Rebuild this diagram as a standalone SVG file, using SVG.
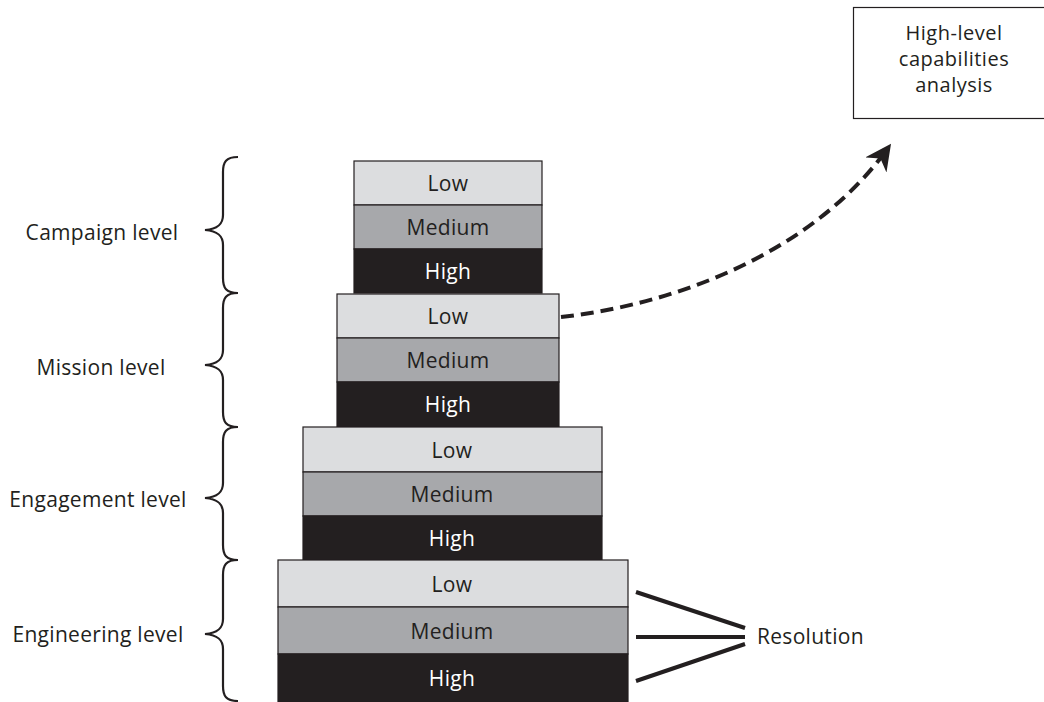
<svg xmlns="http://www.w3.org/2000/svg" width="1044" height="702" viewBox="0 0 1044 702">
<defs>
<style>
text{font-family:"Open Sans","Noto Sans",sans-serif;font-size:21px;letter-spacing:0.3px;fill:#231f20;text-anchor:middle}
text.bx{font-size:20px;letter-spacing:0.5px}
.lo{fill:#dcdddf;stroke:#231f20;stroke-width:1.2}
.md{fill:#a7a8ab;stroke:#231f20;stroke-width:1.2}
.hi{fill:#231f20;stroke:#231f20;stroke-width:1.2}
text.w{fill:#ffffff}
.brace{fill:none;stroke:#231f20;stroke-width:2.2}
.res{stroke:#231f20;stroke-width:4;fill:none}
</style>
<marker id="ah" viewBox="0 0 10 10" refX="8" refY="5" markerWidth="6.5" markerHeight="6.5" orient="auto" markerUnits="strokeWidth">
<path d="M0,0 L10,5 L0,10 L3,5 Z" fill="#231f20"/>
</marker>
</defs>
<rect width="1044" height="702" fill="#ffffff"/>

<g id="campaign">
<rect class="lo" x="354" y="161" width="188" height="44"/>
<rect class="md" x="354" y="205" width="188" height="44"/>
<rect class="hi" x="354" y="249" width="188" height="44"/>
<text x="448" y="191">Low</text>
<text x="448" y="235">Medium</text>
<text class="w" x="448" y="279">High</text>
</g>
<g id="mission">
<rect class="lo" x="337" y="294" width="222" height="44"/>
<rect class="md" x="337" y="338" width="222" height="44"/>
<rect class="hi" x="337" y="382" width="222" height="45"/>
<text x="448" y="324">Low</text>
<text x="448" y="368">Medium</text>
<text class="w" x="448" y="412">High</text>
</g>
<g id="engagement">
<rect class="lo" x="303" y="427" width="299" height="45"/>
<rect class="md" x="303" y="472" width="299" height="44"/>
<rect class="hi" x="303" y="516" width="299" height="44"/>
<text x="452" y="458">Low</text>
<text x="452" y="502">Medium</text>
<text class="w" x="452" y="546">High</text>
</g>
<g id="engineering">
<rect class="lo" x="278" y="560" width="350" height="47"/>
<rect class="md" x="278" y="607" width="350" height="47"/>
<rect class="hi" x="278" y="654" width="350" height="48"/>
<text x="452" y="592">Low</text>
<text x="452" y="639">Medium</text>
<text class="w" x="452" y="686">High</text>
</g>

<g id="braces">
<path class="brace" d="M238,157 C226,157 223,162 223,172 L223,215 C223,224 218,229 205,230 C218,231 223,236 223,245 L223,278 C223,288 226,293 238,293"/>
<path class="brace" d="M238,293 C226,293 223,298 223,308 L223,350 C223,359 218,364 205,365 C218,366 223,371 223,380 L223,412 C223,422 226,427 238,427"/>
<path class="brace" d="M238,427 C226,427 223,432 223,442 L223,483 C223,492 218,497 205,498 C218,499 223,504 223,513 L223,545 C223,555 226,560 238,560"/>
<path class="brace" d="M238,560 C226,560 223,565 223,575 L223,619 C223,628 218,633 205,634 C218,635 223,640 223,649 L223,686 C223,696 226,701 238,701"/>
</g>
<g id="level-labels">
<text x="102" y="240">Campaign level</text>
<text x="101" y="375">Mission level</text>
<text x="98" y="507">Engagement level</text>
<text x="98" y="642">Engineering level</text>
</g>

<g id="analysis">
<rect x="853.5" y="7.5" width="200" height="111" fill="#ffffff" stroke="#231f20" stroke-width="1.2"/>
<text class="bx" x="954" y="40">High-level</text>
<text class="bx" x="954" y="66">capabilities</text>
<text class="bx" x="954" y="92">analysis</text>
</g>

<g id="connectors">
<path d="M561,317 C680,304 815,250 888,148" fill="none" stroke="#231f20" stroke-width="4" stroke-dasharray="13,7" marker-end="url(#ah)"/>
<line class="res" x1="636" y1="592" x2="745" y2="628"/>
<line class="res" x1="636" y1="637" x2="745" y2="637"/>
<line class="res" x1="636" y1="681" x2="745" y2="644"/>
</g>
<g id="resolution">
<text x="757" y="644" style="text-anchor:start">Resolution</text>
</g>
</svg>
